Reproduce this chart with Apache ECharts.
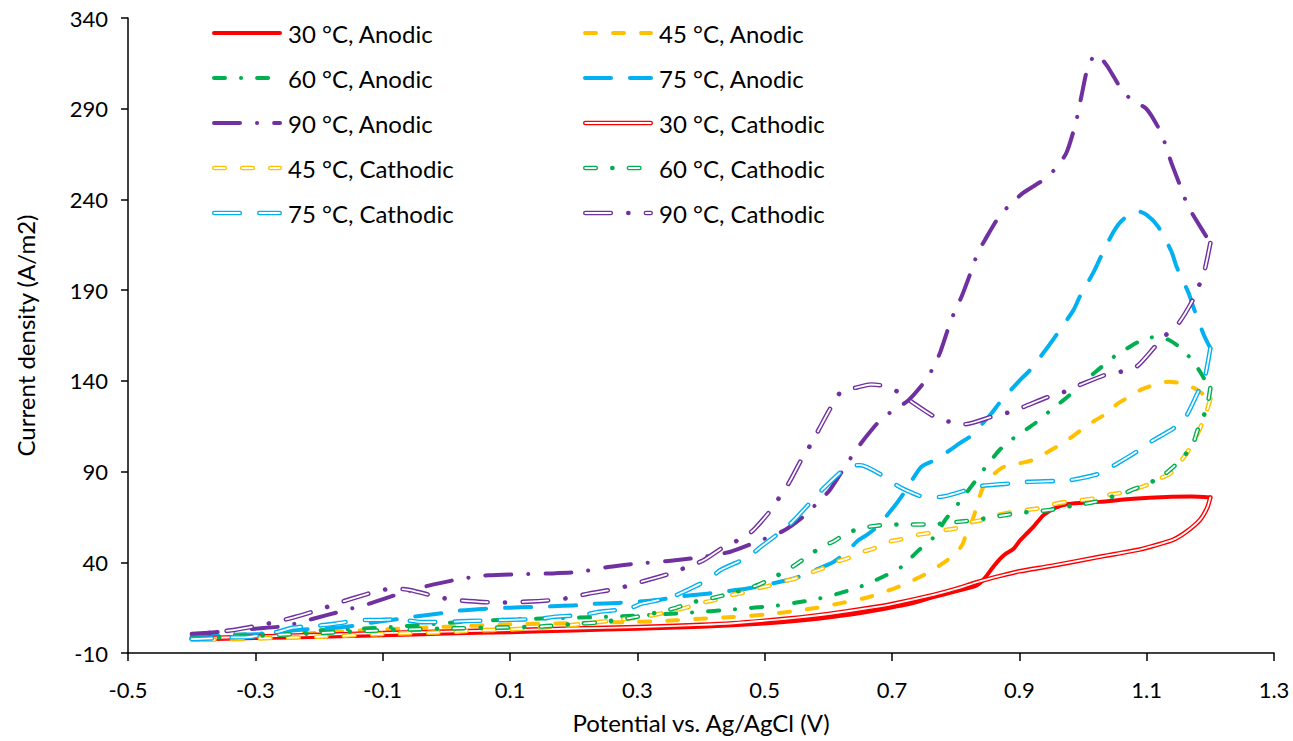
<!DOCTYPE html>
<html>
<head>
<meta charset="utf-8">
<script src="https://cdn.jsdelivr.net/npm/echarts@6/dist/echarts.min.js"></script>
<style>
  html, body { margin: 0; padding: 0; background: #fff; }
  #main { width: 1293px; height: 741px; }
</style>
</head>
<body>
<div id="main"></div>
<script>
// axis ranges / ticks
var xRange = [-0.5, 1.3, 0.2];
var yRange = [-10, 340, 50];

// [potential V, current density A/m2]
var anodic30 = [[-0.4,-2.5],[-0.3,-1.8],[-0.2,-1],[-0.1,-0.2],[0,0.7],[0.1,1.5],[0.2,2.4],[0.3,3.4],[0.4,4.5],[0.5,6.3],[0.56,8],[0.62,10.5],[0.66,12.6],[0.72,16.5],[0.765,20.8],[0.8,24],[0.833,27.3],[0.845,31],[0.858,37],[0.87,42],[0.88,45],[0.891,47.5],[0.901,52],[0.912,56],[0.922,59.5],[0.938,66],[0.954,69.6],[0.974,72],[1.0,72.8],[1.026,73.3],[1.079,75],[1.131,76],[1.17,76.2],[1.2,75.7]];
var anodic45 = [[-0.4,-2.5],[-0.3,-0.8],[-0.2,1.2],[-0.1,3],[0,4.5],[0.1,5.8],[0.2,6.5],[0.3,7.2],[0.36,8],[0.4,8.9],[0.45,9.8],[0.5,11.2],[0.54,12.8],[0.58,14.8],[0.62,17.5],[0.665,21],[0.71,26.5],[0.75,33],[0.775,38.3],[0.797,44],[0.81,49.4],[0.817,56],[0.826,63],[0.833,70.5],[0.841,79.7],[0.848,84.3],[0.858,88],[0.875,92.5],[0.9,94.5],[0.924,96.7],[0.945,100.9],[0.963,104.5],[0.982,109],[1.0,113.8],[1.018,118],[1.037,122],[1.055,127.6],[1.073,131.2],[1.092,135.3],[1.113,137.8],[1.134,139.5],[1.155,138.6],[1.176,135.8],[1.194,131.2],[1.2,130]];
var anodic60 = [[-0.4,-1.5],[-0.3,0.5],[-0.2,2.5],[-0.1,4],[-0.05,5.2],[0.03,7.3],[0.1,8.5],[0.17,9.2],[0.24,9.8],[0.31,10.8],[0.38,12.2],[0.45,14],[0.52,16.2],[0.55,17.8],[0.585,20],[0.618,23],[0.65,26.5],[0.685,31.9],[0.715,37.5],[0.74,46],[0.766,54],[0.785,64],[0.8,70.5],[0.814,77],[0.828,83.4],[0.847,92.5],[0.87,102.3],[0.89,108.2],[0.906,112],[0.926,117],[0.95,124],[0.98,132.5],[1.0,139.5],[1.02,145],[1.05,153.7],[1.07,158],[1.09,162],[1.115,164.3],[1.135,162.5],[1.154,158],[1.171,151.5],[1.184,145],[1.195,138.2],[1.2,136]];
var anodic75 = [[-0.4,-0.5],[-0.33,0.1],[-0.28,0.6],[-0.257,1.8],[-0.214,3.2],[-0.188,3.5],[-0.146,5],[-0.12,6.6],[-0.078,8.6],[-0.052,10],[-0.007,12],[0.016,13.2],[0.063,14.4],[0.1,15],[0.134,15.3],[0.163,15.7],[0.205,16.3],[0.226,17],[0.27,17.6],[0.291,18.1],[0.336,19.4],[0.359,20.8],[0.41,22.7],[0.43,23.6],[0.473,25.5],[0.498,27.3],[0.545,30.9],[0.566,33.8],[0.608,40.2],[0.626,44.8],[0.647,52.1],[0.66,55],[0.678,60],[0.707,72.4],[0.72,78.8],[0.746,92.6],[0.767,96.3],[0.791,101.8],[0.806,105.5],[0.825,110],[0.856,122],[0.87,128.4],[0.901,140.4],[0.917,146],[0.945,158.8],[0.958,165.2],[0.985,179],[0.995,186.4],[1.017,200.2],[1.027,207.6],[1.048,222.2],[1.062,228.7],[1.084,233.7],[1.1,231.5],[1.118,225],[1.139,211.2],[1.147,202.9],[1.166,188.3],[1.173,181],[1.189,166],[1.2,158]];
var anodic90 = [[-0.4,0.6],[-0.35,1.8],[-0.3,3.4],[-0.26,4.6],[-0.233,6.5],[-0.209,8.9],[-0.164,13.1],[-0.141,15.3],[-0.118,17.5],[-0.073,22.7],[-0.026,27.3],[0.016,30.4],[0.042,31.9],[0.066,32.8],[0.113,33.4],[0.16,33.8],[0.207,34.6],[0.254,37.4],[0.299,39.3],[0.349,40.7],[0.396,42.6],[0.445,45.7],[0.487,51.2],[0.531,57.6],[0.567,67],[0.584,73.3],[0.602,79.7],[0.626,92.6],[0.64,100],[0.655,107.3],[0.684,119.3],[0.704,124],[0.726,129.4],[0.754,140.8],[0.766,148.3],[0.776,156],[0.791,171.7],[0.8,179.4],[0.81,187],[0.826,202],[0.834,210],[0.846,217.7],[0.87,231.5],[0.887,237.5],[0.906,243.6],[0.943,252],[0.96,258.5],[0.974,265.7],[0.987,280],[0.993,289],[0.998,297.7],[1.008,313.3],[1.021,320],[1.037,314],[1.061,300.4],[1.078,294.4],[1.1,289.8],[1.123,276.5],[1.131,268.3],[1.139,260],[1.155,245.3],[1.164,237],[1.176,229.6],[1.2,216]];

var cathodic30 = [[1.2,75.7],[1.195,70],[1.184,63.5],[1.163,57],[1.142,52.5],[1.11,49],[1.089,47],[1.05,44.5],[1.026,43],[0.95,38],[0.9,35],[0.87,32.5],[0.833,29],[0.8,25.3],[0.765,22],[0.7,17],[0.66,14.6],[0.6,11.5],[0.555,9.6],[0.5,7.8],[0.451,6.4],[0.4,5.5],[0.3,4.3],[0.2,3.5],[0.1,2.6],[0,1.8],[-0.1,1],[-0.2,0],[-0.3,-1],[-0.4,-2]];
var cathodic45 = [[1.2,130],[1.194,123],[1.186,115.6],[1.176,108],[1.166,101.8],[1.155,96.3],[1.137,88.9],[1.121,86.2],[1.1,82.5],[1.084,80.6],[1.058,78.2],[1.037,77],[1.016,75.1],[0.995,74.2],[0.974,73.3],[0.953,72],[0.928,69.6],[0.907,68.7],[0.885,67.4],[0.865,65.9],[0.84,63.2],[0.822,61.9],[0.799,58.6],[0.778,57.6],[0.757,56],[0.736,54.9],[0.712,52.5],[0.691,51],[0.671,47.5],[0.653,45.7],[0.629,42],[0.61,40],[0.589,36.3],[0.571,34.2],[0.548,31],[0.527,29.3],[0.506,27],[0.485,25.3],[0.464,23],[0.443,21.6],[0.42,19],[0.4,17.6],[0.377,15],[0.359,13.5],[0.336,11.7],[0.314,10.2],[0.29,9.2],[0.27,8.3],[0.2,5.5],[0.15,4],[0.1,3],[0.05,2.5],[0,1.5],[-0.1,0.5],[-0.2,-1],[-0.3,-2],[-0.4,-3]];
var cathodic60 = [[1.2,136],[1.197,129.4],[1.189,120],[1.18,112.8],[1.173,105.5],[1.159,98.6],[1.142,92.6],[1.126,88],[1.105,83.8],[1.082,80.6],[1.063,77.9],[1.041,75.7],[1.019,73.3],[0.998,72],[0.973,70.5],[0.951,69],[0.928,68.1],[0.905,67.4],[0.883,66.3],[0.86,65],[0.837,63.7],[0.813,62.6],[0.791,61.9],[0.767,61],[0.72,60.8],[0.698,60.8],[0.673,60],[0.655,59],[0.63,56.2],[0.608,51.5],[0.592,49],[0.571,44.2],[0.55,39],[0.535,35.6],[0.512,31.3],[0.49,27.5],[0.472,25.5],[0.448,23],[0.422,20.6],[0.404,19.5],[0.38,17.2],[0.356,14.4],[0.338,12.9],[0.3,10],[0.244,7],[0.21,6.2],[0.15,4.6],[0.08,4],[0,3.5],[-0.06,3],[-0.1,2.5],[-0.2,1],[-0.3,-0.5],[-0.4,-2]];
var cathodic75 = [[1.2,158],[1.191,141.4],[1.181,134],[1.16,119.3],[1.142,113.8],[1.102,105.5],[1.084,100.9],[1.045,92.6],[1.026,88.9],[0.979,85.2],[0.956,84.8],[0.911,84.3],[0.885,83.4],[0.841,82.1],[0.82,80.1],[0.775,76],[0.751,76],[0.73,78.5],[0.71,81.9],[0.689,87],[0.65,93.5],[0.638,93.5],[0.626,91.7],[0.592,80.6],[0.576,74.6],[0.545,62.8],[0.528,57.6],[0.492,48],[0.474,42.9],[0.43,35.6],[0.414,31],[0.372,23.6],[0.351,20.5],[0.307,17.2],[0.286,14.4],[0.257,13.3],[0.238,12.6],[0.215,11],[0.171,10],[0.147,8.8],[0.1,8.3],[0.079,8],[0.032,7.6],[0.009,7.3],[-0.037,7],[-0.06,7.9],[-0.089,8.4],[-0.107,8.2],[-0.131,8.2],[-0.172,6.3],[-0.198,5.2],[-0.24,4],[-0.266,1.6],[-0.311,-1.2],[-0.335,-1.4],[-0.379,-2.1],[-0.4,-2.3]];
var cathodic90 = [[1.2,216],[1.191,201],[1.182,192.3],[1.171,183.6],[1.15,171.7],[1.13,165.2],[1.113,158.8],[1.084,147.8],[1.059,145],[1.034,143.2],[0.995,137.7],[0.971,134],[0.946,131.2],[0.907,125.7],[0.883,122.6],[0.859,120.5],[0.814,116.1],[0.791,117.4],[0.767,120.2],[0.731,128.4],[0.711,133.6],[0.689,137.1],[0.667,138],[0.645,136.4],[0.621,134.3],[0.607,127.2],[0.586,113.8],[0.574,105.8],[0.56,98.1],[0.539,84.3],[0.526,77.5],[0.513,70.2],[0.483,58],[0.463,52.9],[0.44,49.4],[0.404,41.1],[0.38,37.8],[0.359,34.6],[0.315,30.1],[0.291,27.7],[0.269,25.5],[0.223,22.7],[0.198,20.8],[0.175,19.4],[0.128,18.3],[0.081,17.8],[0.034,18.6],[0.01,19.4],[-0.013,20.8],[-0.057,24.7],[-0.082,25.5],[-0.104,24.5],[-0.148,20],[-0.173,17.2],[-0.195,14.4],[-0.238,9.8],[-0.263,7.6],[-0.288,5.6],[-0.332,2.8],[-0.4,0]];

var temps = ['30', '45', '60', '75', '90'];
var anodicData = [anodic30, anodic45, anodic60, anodic75, anodic90];
var cathodicData = [cathodic30, cathodic45, cathodic60, cathodic75, cathodic90];
var colors = ['#FF0000', '#FFC000', '#00B050', '#00B0F0', '#7030A0'];

// dash patterns (round caps): solid, dash, dash-dot, long dash, long dash-dot
var anodicDash = ['solid', [11, 17], [11, 16, 0.1, 16], [26, 19], [26, 17, 0.1, 17]];
var cathodicDash = ['solid', [10.5, 17.5], [10.5, 16.5, 0.1, 16.5], [25.5, 19.5], [25.5, 17.5, 0.1, 17.5]];
var cathodicInner = ['solid', [10.5, 17.5], [10.5, 33.1], [25.5, 19.5], [25.5, 35.1]];

var FONT = 'Lato, "Open Sans", sans-serif';
var AW = 4, CW = 4.6, IW = 1.8;

var series = [];
for (var i = 0; i < 5; i++) {
  series.push({
    name: temps[i] + ' °C, Anodic', type: 'line', data: anodicData[i],
    symbol: 'none', smooth: 0.25, silent: true,
    lineStyle: { color: colors[i], width: AW, type: anodicDash[i], cap: 'round', join: 'round' }
  });
}
for (var j = 0; j < 5; j++) {
  series.push({
    name: temps[j] + ' °C, Cathodic', type: 'line', data: cathodicData[j],
    symbol: 'none', smooth: 0.25, silent: true,
    lineStyle: { color: colors[j], width: CW, type: cathodicDash[j], cap: 'round', join: 'round' }
  });
  series.push({
    name: temps[j] + ' °C, Cathodic inner', type: 'line', data: cathodicData[j],
    symbol: 'none', smooth: 0.25, silent: true,
    lineStyle: { color: '#FFFFFF', width: IW, type: cathodicInner[j], cap: 'round', join: 'round' }
  });
}

// legend drawn as graphic: 2 columns x 5 rows
var legendItems = [];
for (var k = 0; k < 5; k++) legendItems.push({ t: k, cat: false });
for (var m = 0; m < 5; m++) legendItems.push({ t: m, cat: true });
var graphics = [];
legendItems.forEach(function (it, idx) {
  var col = idx % 2, row = Math.floor(idx / 2);
  var x0 = col === 0 ? 212 : 583;
  var y = 33 + row * 45;
  var dash = it.cat ? cathodicDash[it.t] : anodicDash[it.t];
  var w = it.cat ? CW : AW;
  graphics.push({
    type: 'line', silent: true,
    shape: { x1: x0 + w / 2, y1: y, x2: x0 + 70 - w / 2, y2: y },
    style: { stroke: colors[it.t], lineWidth: w, lineDash: dash === 'solid' ? null : dash, lineCap: 'round' }
  });
  if (it.cat) {
    var inner = cathodicInner[it.t];
    graphics.push({
      type: 'line', silent: true,
      shape: { x1: x0 + w / 2, y1: y, x2: x0 + 70 - w / 2, y2: y },
      style: { stroke: '#FFFFFF', lineWidth: IW, lineDash: inner === 'solid' ? null : inner, lineCap: 'round' }
    });
  }
  graphics.push({
    type: 'text', silent: true, x: x0 + 76, y: y,
    style: {
      text: temps[it.t] + ' °C, ' + (it.cat ? 'Cathodic' : 'Anodic'),
      fill: '#000', fontSize: 24, fontFamily: FONT, align: 'left', verticalAlign: 'middle'
    }
  });
});

var chart = echarts.init(document.getElementById('main'), null, { renderer: 'svg' });
chart.setOption({
  animation: false,
  backgroundColor: '#fff',
  grid: { left: 128, right: 19, top: 18, bottom: 88 },
  xAxis: {
    type: 'value', min: xRange[0], max: xRange[1], interval: xRange[2],
    name: 'Potential vs. Ag/AgCl (V)', nameLocation: 'middle', nameGap: 57,
    nameTextStyle: { color: '#000', fontSize: 24, fontFamily: FONT },
    axisLine: { onZero: false, lineStyle: { color: '#000', width: 1.5 } },
    axisTick: { show: true, length: 8, lineStyle: { color: '#000', width: 1.5 } },
    axisLabel: { color: '#000', fontSize: 22, fontFamily: FONT, margin: 25,
      formatter: function (v) { return v.toFixed(1); } },
    splitLine: { show: false }
  },
  yAxis: {
    type: 'value', min: yRange[0], max: yRange[1], interval: yRange[2],
    name: 'Current density (A/m2)', nameLocation: 'middle', nameGap: 91,
    nameTextStyle: { color: '#000', fontSize: 24, fontFamily: FONT },
    axisLine: { show: true, onZero: false, lineStyle: { color: '#000', width: 1.5 } },
    axisTick: { show: true, length: 7, lineStyle: { color: '#000', width: 1.5 } },
    axisLabel: { color: '#000', fontSize: 22, fontFamily: FONT, margin: 20 },
    splitLine: { show: false }
  },
  series: series,
  graphic: graphics
});
</script>
</body>
</html>
